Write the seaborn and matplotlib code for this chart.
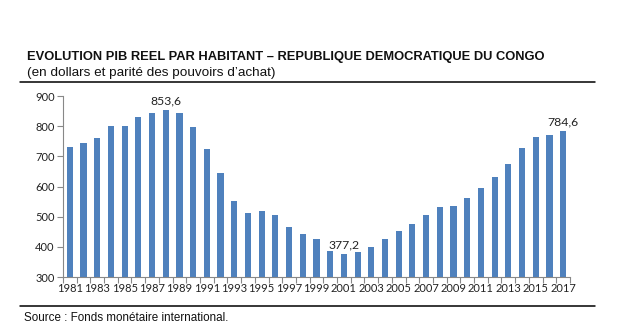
import matplotlib
matplotlib.use("Agg")
import matplotlib.pyplot as plt
from matplotlib.lines import Line2D
import seaborn as sns
import pandas as pd
import numpy as np

years = list(range(1981, 2018))
pib_par_habitant = [
    729.6, 745.0, 762.0, 799.0, 802.0, 831.0, 844.5, 853.6, 844.0, 796.0,
    725.0, 645.6, 553.0, 513.0, 520.0, 506.0, 467.0, 443.5, 427.0, 387.0,
    377.2, 384.0, 400.0, 427.0, 453.0, 476.7, 506.0, 533.0, 536.0, 563.0,
    596.0, 632.0, 675.6, 728.6, 765.0, 771.0, 784.6,
]
labelled_years = [1988, 2001, 2017]

title = "EVOLUTION PIB REEL PAR HABITANT \u2013 REPUBLIQUE DEMOCRATIQUE DU CONGO"
subtitle = "(en dollars et parit\u00e9 des pouvoirs d\u2019achat)"
source = "Source : Fonds mon\u00e9taire international."

df = pd.DataFrame({"annee": [str(y) for y in years], "pib": pib_par_habitant})

sns.set_theme(style="white")
plt.rcParams["font.family"] = ["Liberation Sans", "DejaVu Sans"]

fig = plt.figure(figsize=(6.18, 3.31), dpi=100)
ax = fig.add_axes([0.1019, 0.1631, 0.8204, 0.5468])

sns.barplot(data=df, x="annee", y="pib", color="#4F81BD", saturation=1,
            width=0.45, ax=ax, edgecolor="none")

ax.set_ylim(300, 900)
ax.set_xlim(-0.5, len(years) - 0.5)
ax.set_yticks(np.arange(300, 901, 100))
ax.set_xlabel("")
ax.set_ylabel("")

tick_font = dict(family=["Lato", "DejaVu Sans"], size=8, color="#222222")
ax.set_xticks(range(0, len(years), 2))
ax.set_xticklabels([str(y) for y in years[::2]], **tick_font)
ax.set_yticklabels([str(v) for v in range(300, 901, 100)], **tick_font)

# category boundary tick marks on the x axis
ax.set_xticks(np.arange(-0.5, len(years), 1), minor=True)
ax.tick_params(axis="x", which="major", length=0, pad=4)
ax.tick_params(axis="x", which="minor", length=4, color="#888888", width=0.8,
               direction="out", bottom=True)
ax.tick_params(axis="y", which="major", length=4, color="#888888", width=0.8,
               direction="out", left=True, pad=2)

for side in ["top", "right"]:
    ax.spines[side].set_visible(False)
for side in ["left", "bottom"]:
    ax.spines[side].set_color("#888888")
    ax.spines[side].set_linewidth(0.8)

for y, v in zip(years, pib_par_habitant):
    if y in labelled_years:
        i = years.index(y)
        ax.text(i, v + 12, f"{v:.1f}".replace(".", ","), ha="center", va="bottom",
                family=["Lato", "DejaVu Sans"], size=8.8, color="#222222")

fig.text(0.0437, 0.8187, title, fontsize=9.25, fontweight="bold",
         va="baseline", ha="left", color="#111111")
fig.text(0.0437, 0.7704, subtitle, fontsize=9.7, va="baseline", ha="left",
         color="#111111")
fig.text(0.039, 0.0302, source, fontsize=8.4, va="baseline", ha="left",
         color="#111111")

fig.add_artist(Line2D([0.0324, 0.9628], [0.7523, 0.7523], color="black",
                      linewidth=1.1, transform=fig.transFigure))
fig.add_artist(Line2D([0.0324, 0.9628], [0.0755, 0.0755], color="black",
                      linewidth=1.1, transform=fig.transFigure))

fig.savefig("out.png", dpi=100)
